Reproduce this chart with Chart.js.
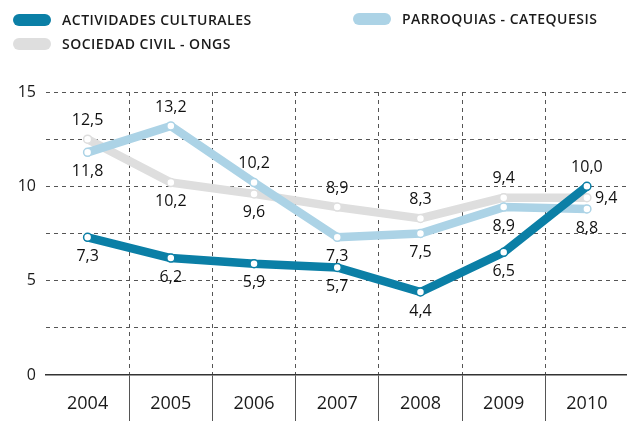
<!DOCTYPE html>
<html>
<head>
<meta charset="utf-8">
<script src="https://cdn.jsdelivr.net/npm/chart.js@4.4.1/dist/chart.umd.min.js"></script>
<style>
  html, body { margin: 0; padding: 0; background: #fff; overflow: hidden; }
  #wrap { position: relative; width: 634px; height: 421px; }
  #legend { position: absolute; left: 0; top: 0; width: 627px; height: 60px; font-family: "Open Sans", sans-serif; }
  .item { position: absolute; display: flex; align-items: center; font-size: 14px; font-weight: 600; letter-spacing: 0.5px; color: #1a1a1a; }
  .sw { width: 38px; height: 12px; border-radius: 6px; margin-right: 11px; }
</style>
</head>
<body>
<div id="wrap">
  <canvas id="chart" width="634" height="421"></canvas>
  <div id="legend"></div>
</div>
<script>
// años y series
const years = ['2004', '2005', '2006', '2007', '2008', '2009', '2010'];
const culturales = [7.3, 6.2, 5.9, 5.7, 4.4, 6.5, 10.0];
const parroquias = [11.8, 13.2, 10.2, 7.3, 7.5, 8.9, 8.8];
const sociedad = [12.5, 10.2, 9.6, 8.9, 8.3, 9.4, 9.4];
const yTicks = [0, 5, 10, 15];

// dónde va cada etiqueta respecto al punto
const posCulturales = ['below', 'below', 'below', 'below', 'below', 'below', 'above'];
const posParroquias = ['below', 'above', 'above', 'below', 'below', 'below', 'below'];
const posSociedad = ['above', 'below', 'below', 'above', 'above', 'above', 'right'];

const series = [
  { label: 'ACTIVIDADES CULTURALES', data: culturales, color: '#0b7fa6', pos: posCulturales, lx: 13, ly: 20 },
  { label: 'PARROQUIAS - CATEQUESIS', data: parroquias, color: '#acd3e6', pos: posParroquias, lx: 353, ly: 19 },
  { label: 'SOCIEDAD CIVIL - ONGS', data: sociedad, color: '#dedede', pos: posSociedad, lx: 13, ly: 44 }
];

// leyenda
const legend = document.getElementById('legend');
series.forEach(s => {
  const it = document.createElement('div');
  it.className = 'item';
  it.style.left = s.lx + 'px';
  it.style.top = (s.ly - 10) + 'px';
  it.innerHTML = `<span class="sw" style="background:${s.color}"></span><span>${s.label}</span>`;
  legend.appendChild(it);
});

// etiquetas de valor con coma decimal
const valueLabels = {
  id: 'valueLabels',
  afterDatasetsDraw(chart) {
    const ctx = chart.ctx;
    ctx.save();
    ctx.font = '16px "Open Sans", sans-serif';
    ctx.fillStyle = '#111';
    ctx.textBaseline = 'middle';
    chart.data.datasets.forEach((ds, di) => {
      const meta = chart.getDatasetMeta(di);
      meta.data.forEach((pt, i) => {
        const txt = ds.data[i].toFixed(1).replace('.', ',');
        const p = series[di].pos[i];
        if (p === 'right') {
          ctx.textAlign = 'left';
          ctx.fillText(txt, pt.x + 8, pt.y + 1);
        } else {
          ctx.textAlign = 'center';
          ctx.fillText(txt, pt.x, p === 'above' ? pt.y - 19 : pt.y + 19);
        }
      });
    });
    ctx.restore();
  }
};

new Chart(document.getElementById('chart'), {
  type: 'line',
  data: {
    labels: years,
    datasets: series.map(s => ({
      label: s.label,
      data: s.data,
      borderColor: s.color,
      borderWidth: 8.5,
      borderJoinStyle: 'round',
      borderCapStyle: 'round',
      tension: 0,
      pointRadius: 4,
      pointBackgroundColor: '#fff',
      pointBorderColor: s.color,
      pointBorderWidth: 1.5
    }))
  },
  options: {
    responsive: false,
    animation: false,
    layout: { padding: { top: 92, right: 0, left: 0, bottom: 0 } },
    plugins: { legend: { display: false }, tooltip: { enabled: false } },
    scales: {
      x: {
        offset: true,
        afterFit: sc => { sc.height = 46; },
        grid: {
          offset: true,
          color: c => c.index === 0 ? 'rgba(0,0,0,0)' : '#555',
          lineWidth: 1,
          drawTicks: true,
          tickLength: 46,
          tickBorderDash: [],
          tickColor: c => c.index === 0 ? 'rgba(0,0,0,0)' : '#555'
        },
        border: { display: true, color: '#333', width: 1.5, dash: [4, 4] },
        ticks: {
          padding: -28,
          color: '#1a1a1a',
          font: { family: 'Open Sans', size: 18 }
        }
      },
      y: {
        min: 0,
        max: 15,
        afterFit: sc => { sc.width = 46; },
        afterBuildTicks: sc => {
          sc.ticks = [0, 2.5, 5, 7.5, 10, 12.5, 15].map(v => ({ value: v }));
        },
        grid: {
          color: c => c.tick && c.tick.value === 0 ? 'rgba(0,0,0,0)' : '#555',
          lineWidth: 1,
          drawTicks: false
        },
        border: { display: false, dash: [4, 4] },
        ticks: {
          padding: 10,
          color: '#1a1a1a',
          font: { family: 'Open Sans', size: 16 },
          callback: v => yTicks.includes(v) ? String(v) : ''
        }
      }
    }
  },
  plugins: [valueLabels]
});
</script>
</body>
</html>
